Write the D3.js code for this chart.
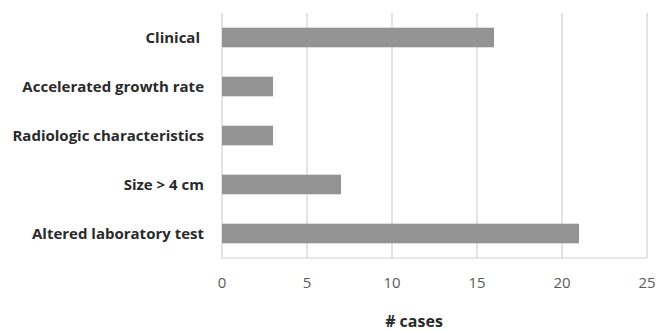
<!DOCTYPE html>
<html>
<head>
<meta charset="utf-8">
<script src="https://cdn.jsdelivr.net/npm/d3@7"></script>
<style>
  body { margin: 0; background: #fff; }
  text { font-family: "Open Sans", "Liberation Sans", sans-serif; }
</style>
</head>
<body>
<div id="chart"></div>
<script>
// Data
const categories = ["Clinical", "Accelerated growth rate", "Radiologic characteristics", "Size > 4 cm", "Altered laboratory test"];
const cases = [16, 3, 3, 7, 21];
const xTicks = [0, 5, 10, 15, 20, 25];

const margin = { top: 13, right: 10, bottom: 73, left: 222 };
const width = 657 - margin.left - margin.right;
const height = 331 - margin.top - margin.bottom;

const svg = d3.select("#chart")
  .append("svg")
  .attr("width", 657)
  .attr("height", 331)
  .append("g")
  .attr("transform", `translate(${margin.left},${margin.top})`);

const x = d3.scaleLinear().domain([0, 25]).range([0, 425]);
const y = d3.scaleBand().domain(categories).range([0, height]).paddingInner(0.6).paddingOuter(0.3);

// Vertical gridlines
svg.selectAll("line.grid")
  .data(xTicks)
  .enter()
  .append("line")
  .attr("class", "grid")
  .attr("x1", d => x(d))
  .attr("x2", d => x(d))
  .attr("y1", 0)
  .attr("y2", height)
  .attr("stroke", "#d0d0d0")
  .attr("stroke-width", 1.2);

// Bottom axis line
svg.append("line")
  .attr("x1", 0)
  .attr("x2", x(25))
  .attr("y1", height)
  .attr("y2", height)
  .attr("stroke", "#d0d0d0")
  .attr("stroke-width", 1.2);

// Bars
svg.selectAll("rect.bar")
  .data(categories)
  .enter()
  .append("rect")
  .attr("class", "bar")
  .attr("x", x(0))
  .attr("y", d => y(d))
  .attr("width", (d, i) => x(cases[i]) - x(0))
  .attr("height", y.bandwidth())
  .attr("fill", "#939393");

// Category labels
svg.selectAll("text.cat")
  .data(categories)
  .enter()
  .append("text")
  .attr("class", "cat")
  .attr("x", d => d === "Clinical" ? -22 : -18)
  .attr("y", d => y(d) + y.bandwidth() / 2)
  .attr("dy", "0.35em")
  .attr("text-anchor", "end")
  .attr("font-size", 15)
  .attr("font-weight", "bold")
  .attr("fill", "#2a2a2a")
  .text(d => d);

// Tick labels
svg.selectAll("text.tick")
  .data(xTicks)
  .enter()
  .append("text")
  .attr("class", "tick")
  .attr("x", d => x(d))
  .attr("y", height + 25)
  .attr("dy", "0.35em")
  .attr("text-anchor", "middle")
  .attr("font-size", 15)
  .attr("fill", "#595959")
  .text(d => d);

// Axis title
svg.append("text")
  .attr("x", 192)
  .attr("y", height + 63)
  .attr("dy", "0.35em")
  .attr("text-anchor", "middle")
  .attr("font-size", 16)
  .attr("font-weight", "bold")
  .attr("fill", "#2a2a2a")
  .text("# cases");
</script>
</body>
</html>
